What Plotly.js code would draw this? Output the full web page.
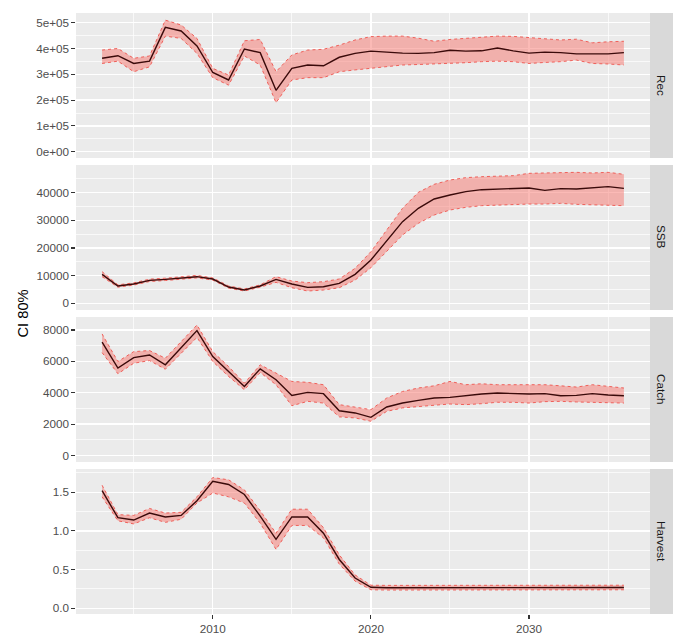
<!DOCTYPE html>
<html>
<head>
<meta charset="utf-8">
<script src="https://cdn.plot.ly/plotly-3.0.1.min.js"></script>
<style>html,body{margin:0;padding:0;background:#fff;}#chart{width:675px;height:637px;}</style>
</head>
<body>
<div id="chart"></div>
<script>
const years = [2003,2004,2005,2006,2007,2008,2009,2010,2011,2012,2013,2014,2015,2016,2017,2018,2019,2020,2021,2022,2023,2024,2025,2026,2027,2028,2029,2030,2031,2032,2033,2034,2035,2036];

const recMean  = [362000,372000,342000,351000,482000,468000,410000,307000,278000,398000,384000,238000,323000,336000,333000,366000,381000,390000,386000,382000,381000,384000,393000,390000,391000,402000,391000,382000,386000,384000,379000,379000,379000,384000];
const recUpper = [394000,400000,362000,371000,510000,491000,439000,323000,297000,430000,435000,310000,375000,394000,397000,413000,433000,446000,448000,448000,440000,428000,435000,440000,443000,448000,447000,443000,438000,433000,436000,422000,426000,428000];
const recLower = [342000,351000,310000,329000,448000,439000,381000,287000,258000,371000,336000,190000,278000,287000,287000,310000,317000,323000,329000,336000,338000,340000,342000,345000,349000,351000,349000,342000,346000,349000,355000,342000,340000,336000];

const ssbMean  = [10480,6270,6990,8310,8670,9280,9640,8800,5900,4820,6270,8670,6990,5780,6020,7230,10480,15660,22530,29520,34340,37710,39160,40360,41080,41330,41570,41690,40840,41450,41330,41690,42170,41570];
const ssbUpper = [11450,6700,7400,8750,9100,9700,10100,9200,6300,5200,6700,9640,8070,7470,7830,8800,12650,18670,26510,34340,40120,43010,44580,45420,45780,46020,46140,46990,47110,47350,47350,47110,47350,46630];
const ssbLower = [9640,5850,6600,7900,8250,8850,9200,8400,5500,4450,5850,7590,5660,4460,4820,5660,8430,12890,18670,24700,28920,31930,33730,34700,35300,35540,35780,35900,35900,36140,35780,35540,35540,35300];

const catchMean  = [7220,5570,6240,6410,5780,6900,7960,6310,5350,4400,5520,4830,3830,4020,3940,2850,2710,2430,3090,3340,3510,3660,3700,3810,3920,3980,3940,3920,3940,3810,3830,3940,3850,3810];
const catchUpper = [7750,5990,6620,6690,6200,7260,8320,6620,5670,4610,5780,5250,4720,4660,4510,3240,3090,2920,3660,4080,4300,4440,4720,4510,4570,4510,4510,4510,4510,4440,4360,4510,4400,4300];
const catchLower = [6560,5210,5880,6050,5500,6520,7530,5990,5040,4190,5290,4510,3170,3450,3340,2460,2390,2180,2810,3030,3130,3200,3280,3240,3300,3390,3390,3340,3430,3450,3410,3390,3340,3340];

const harvMean  = [1.52,1.17,1.14,1.23,1.18,1.20,1.39,1.64,1.60,1.47,1.19,0.89,1.18,1.18,0.97,0.63,0.39,0.27,0.265,0.265,0.265,0.265,0.265,0.265,0.265,0.265,0.268,0.265,0.265,0.265,0.268,0.268,0.268,0.268];
const harvUpper = [1.59,1.21,1.20,1.29,1.23,1.24,1.44,1.69,1.66,1.53,1.26,0.97,1.28,1.28,1.04,0.69,0.43,0.297,0.295,0.295,0.295,0.295,0.295,0.295,0.295,0.295,0.297,0.295,0.295,0.295,0.297,0.297,0.297,0.297];
const harvLower = [1.44,1.13,1.09,1.17,1.11,1.15,1.36,1.49,1.44,1.36,1.10,0.76,1.07,1.07,0.91,0.57,0.35,0.238,0.235,0.235,0.235,0.235,0.235,0.235,0.235,0.235,0.238,0.235,0.235,0.235,0.238,0.238,0.238,0.238];

const panelNames = ["Rec","SSB","Catch","Harvest"];
const recTicks = [0,100000,200000,300000,400000,500000];
const recTickText = ["0e+00","1e+05","2e+05","3e+05","4e+05","5e+05"];
const ssbTicks = [0,10000,20000,30000,40000];
const catchTicks = [0,2000,4000,6000,8000];
const harvTicks = [0,0.5,1,1.5];
const harvTickText = ["0.0","0.5","1.0","1.5"];
const xTicks = [2010,2020,2030];

const series = [
  {mean: recMean, up: recUpper, lo: recLower},
  {mean: ssbMean, up: ssbUpper, lo: ssbLower},
  {mean: catchMean, up: catchUpper, lo: catchLower},
  {mean: harvMean, up: harvUpper, lo: harvLower}
];

const ribbonFill = "rgba(248,118,109,0.5)";
const ribbonEdge = "#F0605A";
const lineCol = "#3A0A0A";

const traces = [];
series.forEach((s, i) => {
  const n = i === 0 ? "" : String(i + 1);
  const xa = "x" + n, ya = "y" + n;
  traces.push({x: years, y: s.lo, xaxis: xa, yaxis: ya, type: "scatter", mode: "lines",
    line: {color: ribbonEdge, width: 1, dash: "dot"}, hoverinfo: "skip", showlegend: false});
  traces.push({x: years, y: s.up, xaxis: xa, yaxis: ya, type: "scatter", mode: "lines",
    fill: "tonexty", fillcolor: ribbonFill,
    line: {color: ribbonEdge, width: 1, dash: "dot"}, hoverinfo: "skip", showlegend: false});
  traces.push({x: years, y: s.mean, xaxis: xa, yaxis: ya, type: "scatter", mode: "lines",
    line: {color: lineCol, width: 1.4}, showlegend: false});
});

const font = "Liberation Sans, Arial, sans-serif";
const domains = [[456/601, 1], [304/601, 449/601], [152/601, 297/601], [0, 145/601]];
const yRanges = [[-24400, 537600], [-2400, 50000], [-420, 8830], [-0.075, 1.80]];
const yTickSets = [
  {vals: recTicks, text: recTickText, minor: 50000},
  {vals: ssbTicks, text: ssbTicks.map(String), minor: 5000},
  {vals: catchTicks, text: catchTicks.map(String), minor: 1000},
  {vals: harvTicks, text: harvTickText, minor: 0.25}
];

const layout = {
  width: 675, height: 637,
  margin: {l: 76, r: 25, t: 13, b: 23},
  paper_bgcolor: "#FFFFFF",
  plot_bgcolor: "#EBEBEB",
  showlegend: false,
  font: {family: font, size: 11.7, color: "#4D4D4D"},
  shapes: [],
  annotations: []
};

const stripW = 23 / 574;
for (let i = 0; i < 4; i++) {
  const n = i === 0 ? "" : String(i + 1);
  const bottom = i === 3;
  layout["xaxis" + n] = {
    domain: [0, 1], anchor: "y" + n, range: [2001.35, 2037.65],
    tickmode: "array", tickvals: xTicks, ticktext: xTicks.map(String),
    showticklabels: bottom, ticks: bottom ? "outside" : "", ticklen: 3.7, tickwidth: 1.1, tickcolor: "#333333",
    showgrid: true, gridcolor: "#FFFFFF", gridwidth: 1.4,
    minor: {dtick: 5, tick0: 2000, showgrid: true, gridcolor: "#FFFFFF", gridwidth: 0.7},
    zeroline: false, showline: false,
    tickfont: {family: font, size: 11.7, color: "#4D4D4D"}
  };
  if (i > 0) layout["xaxis" + n].matches = "x";
  const t = yTickSets[i];
  layout["yaxis" + n] = {
    domain: domains[i], anchor: "x" + n, range: yRanges[i],
    tickmode: "array", tickvals: t.vals, ticktext: t.text,
    ticks: "outside", ticklen: 3.7, tickwidth: 1.1, tickcolor: "#333333",
    showgrid: true, gridcolor: "#FFFFFF", gridwidth: 1.4,
    minor: {dtick: t.minor, tick0: 0, showgrid: true, gridcolor: "#FFFFFF", gridwidth: 0.7},
    zeroline: false, showline: false,
    tickfont: {family: font, size: 11.7, color: "#4D4D4D"}
  };
  layout.shapes.push({type: "rect", xref: "paper", yref: "paper", x0: 1, x1: 1 + stripW,
    y0: domains[i][0], y1: domains[i][1], fillcolor: "#D9D9D9", line: {width: 0}, layer: "below"});
  layout.annotations.push({xref: "paper", yref: "paper", x: 1 + stripW / 2, y: (domains[i][0] + domains[i][1]) / 2,
    text: panelNames[i], showarrow: false, textangle: 90,
    font: {family: font, size: 11.7, color: "#1A1A1A"}, xanchor: "center", yanchor: "middle"});
}
layout.annotations.push({xref: "paper", yref: "paper", x: (22 - 76) / 574, y: 0.5,
  text: "CI 80%", showarrow: false, textangle: -90,
  font: {family: font, size: 14.7, color: "#000000"}, xanchor: "center", yanchor: "middle"});

Plotly.newPlot("chart", traces, layout, {displayModeBar: false, staticPlot: true});
</script>
</body>
</html>
